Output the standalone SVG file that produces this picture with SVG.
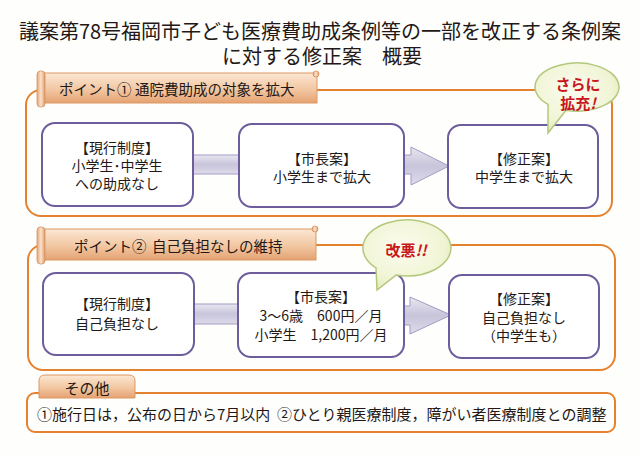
<svg xmlns="http://www.w3.org/2000/svg" width="640" height="455" viewBox="0 0 640 455">
  <defs>
    <linearGradient id="gBanner" x1="0" y1="0" x2="0" y2="1">
      <stop offset="0" stop-color="#fbe7d4"/>
      <stop offset="0.55" stop-color="#f2c7a2"/>
      <stop offset="1" stop-color="#e5a272"/>
    </linearGradient>
    <linearGradient id="gRoll" x1="0" y1="0" x2="1" y2="0">
      <stop offset="0" stop-color="#e6a77a"/>
      <stop offset="0.5" stop-color="#fbe2cc"/>
      <stop offset="1" stop-color="#df9a68"/>
    </linearGradient>
    <linearGradient id="gBar" x1="0" y1="0" x2="0" y2="1">
      <stop offset="0" stop-color="#e9e7f1"/>
      <stop offset="0.5" stop-color="#c8c4da"/>
      <stop offset="1" stop-color="#dedbea"/>
    </linearGradient>
    <radialGradient id="gBubble" cx="0.45" cy="0.4" r="0.65">
      <stop offset="0" stop-color="#fbfcee"/>
      <stop offset="0.7" stop-color="#f1f5d6"/>
      <stop offset="1" stop-color="#e2ebb6"/>
    </radialGradient>
    <style>
      text { font-family: "Noto Sans CJK JP", "Noto Sans", sans-serif; fill: #231815; }
      .title { font-size: 20px; text-anchor: middle; dominant-baseline: central; }
      .frame { fill: none; stroke: #e5822f; stroke-width: 2; }
      .box { fill: #ffffff; stroke: #6d5d9c; stroke-width: 2; }
      .bt { font-size: 14px; text-anchor: middle; dominant-baseline: central; }
      .banner { fill: url(#gBanner); stroke: #dc9763; stroke-width: 1; }
      .roll { fill: url(#gRoll); stroke: #d48f5c; stroke-width: 0.8; }
      .bl { font-size: 14.5px; dominant-baseline: central; }
      .bubble { fill: url(#gBubble); stroke: #b3c87c; stroke-width: 1.5; }
      .red { font-size: 15px; font-weight: bold; fill: #c8161d; text-anchor: middle; dominant-baseline: central; }
      .conn { fill: url(#gBar); stroke: #a29cc2; stroke-width: 1; }
      .other { font-size: 15px; dominant-baseline: central; }
    </style>
  </defs>

  <rect width="640" height="455" fill="#fefefd"/>

  <g id="title">
    <text class="title" x="320" y="30">議案第78号福岡市子ども医療費助成条例等の一部を改正する条例案</text>
    <text class="title" x="322" y="55">に対する修正案　概要</text>
  </g>

  <g id="point1-frame">
    <rect class="frame" x="26" y="90" width="586" height="126" rx="15"/>
  </g>
  <g id="point2-frame">
    <rect class="frame" x="28" y="245" width="587" height="125" rx="15"/>
  </g>

  <g id="connectors">
    <rect class="conn" x="192" y="155" width="48" height="19"/>
    <polygon class="conn" points="404,155 411,155 411,147 449,166 411,185 411,174 404,174"/>
    <rect class="conn" x="194" y="304" width="45" height="20"/>
    <polygon class="conn" points="404,306 410,306 410,297 451,315 410,334 410,325 404,325"/>
  </g>

  <g id="box-1-current">
    <rect class="box" x="42" y="123" width="151" height="83" rx="13"/>
    <text class="bt" x="117" y="147">【現行制度】</text>
    <text class="bt" x="117" y="165">小学生･中学生</text>
    <text class="bt" x="117" y="183">への助成なし</text>
  </g>
  <g id="box-1-mayor">
    <rect class="box" x="239" y="124" width="165" height="83" rx="13"/>
    <text class="bt" x="322" y="158">【市長案】</text>
    <text class="bt" x="322" y="176">小学生まで拡大</text>
  </g>
  <g id="box-1-amend">
    <rect class="box" x="448" y="125" width="150" height="83" rx="13"/>
    <text class="bt" x="524" y="158">【修正案】</text>
    <text class="bt" x="524" y="176">中学生まで拡大</text>
  </g>

  <g id="box-2-current">
    <rect class="box" x="43" y="273" width="151" height="82" rx="13"/>
    <text class="bt" x="117" y="303">【現行制度】</text>
    <text class="bt" x="117" y="323">自己負担なし</text>
  </g>
  <g id="box-2-mayor">
    <rect class="box" x="238" y="273" width="166" height="84" rx="13"/>
    <text class="bt" x="321" y="296">【市長案】</text>
    <text class="bt" x="321" y="315">3～6歳　600円／月</text>
    <text class="bt" x="321" y="334">小学生　1,200円／月</text>
  </g>
  <g id="box-2-amend">
    <rect class="box" x="449" y="275" width="150" height="83" rx="13"/>
    <text class="bt" x="524" y="298">【修正案】</text>
    <text class="bt" x="524" y="317">自己負担なし</text>
    <text class="bt" x="524" y="335">（中学生も）</text>
  </g>

  <g id="bubble-1">
    <path class="bubble" d="M566 110.2 L548 133 L548 104.4 A42 24 0 1 1 566 110.2 Z"/>
    <text class="red" x="578" y="83">さらに</text>
    <text class="red" x="578" y="102">拡充<tspan font-style="italic">!</tspan></text>
  </g>
  <g id="bubble-2">
    <path class="bubble" d="M396 275.1 L377 290 L376 267.9 A44 28 0 1 1 396 275.1 Z"/>
    <text class="red" x="406" y="249">改悪<tspan font-style="italic">!!</tspan></text>
  </g>

  <g id="point1-banner">
    <rect class="banner" x="43" y="73" width="274" height="30"/>
    <circle class="roll" cx="316" cy="74" r="3"/>
    <rect class="roll" x="37" y="71" width="8" height="36" rx="3.5"/>
    <text class="bl" x="59" y="88.5">ポイント①</text>
    <text class="bl" x="135" y="88.5">通院費助成の対象を拡大</text>
  </g>
  <g id="point2-banner">
    <rect class="banner" x="43" y="229" width="273" height="31"/>
    <circle class="roll" cx="315" cy="229" r="3"/>
    <rect class="roll" x="37" y="227" width="8" height="37" rx="3.5"/>
    <text class="bl" x="74" y="245">ポイント②</text>
    <text class="bl" x="152" y="245">自己負担なしの維持</text>
  </g>

  <g id="other">
    <rect class="frame" x="27" y="393" width="588" height="39" rx="8" fill="#ffffff"/>
    <path class="banner" d="M39 398 V381 Q39 375 45 375 H129 Q135 375 135 381 V398 Z"/>
    <text class="other" x="87" y="387" text-anchor="middle">その他</text>
    <text class="other" x="37" y="413">①施行日は，公布の日から7月以内</text>
    <text class="other" x="277" y="413">②ひとり親医療制度，障がい者医療制度との調整</text>
  </g>
</svg>
